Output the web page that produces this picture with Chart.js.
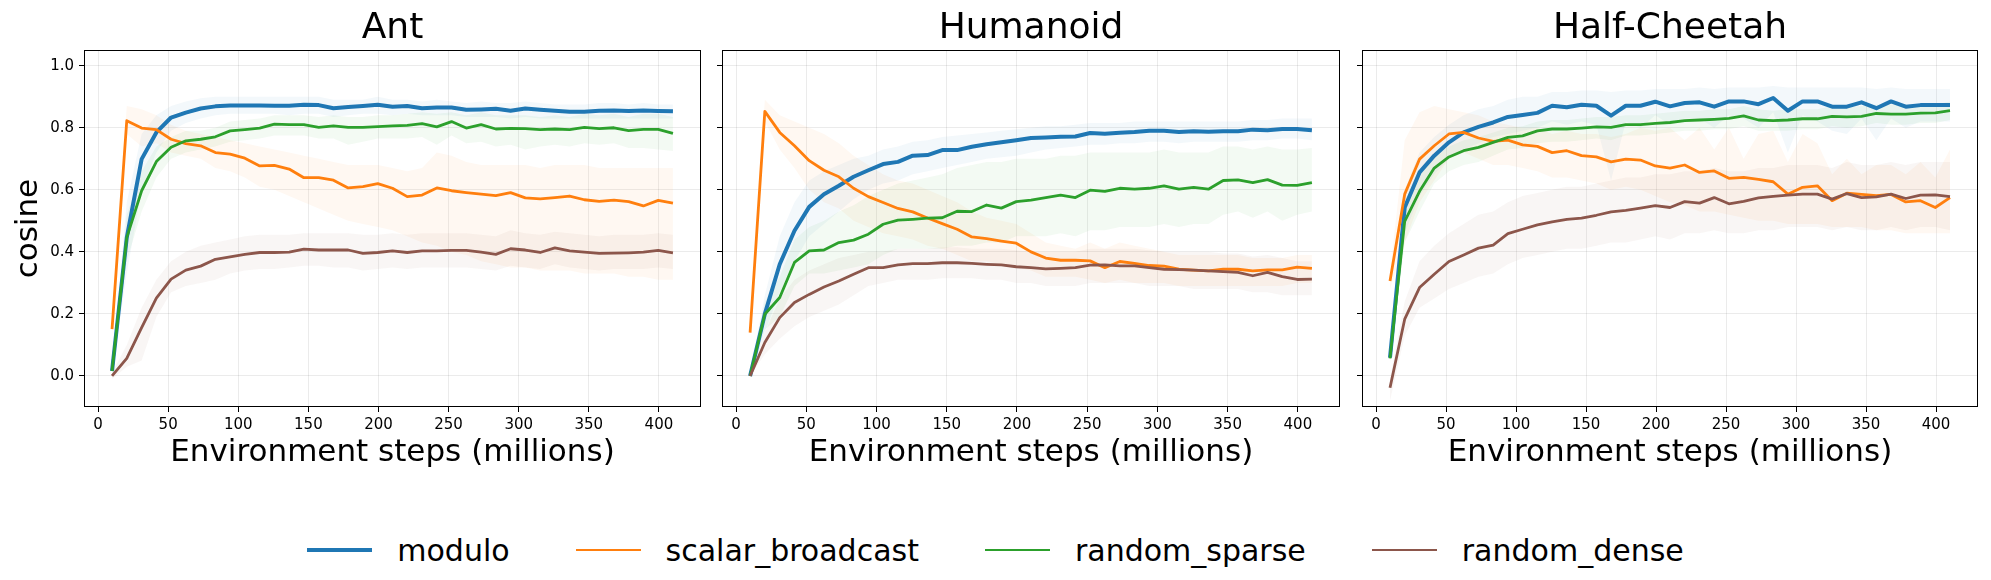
<!DOCTYPE html>
<html>
<head>
<meta charset="utf-8">
<script src="https://cdn.jsdelivr.net/npm/chart.js@4.4.1/dist/chart.umd.min.js"></script>
<style>
  body { margin: 0; background: #fff; width: 1991px; height: 580px; overflow: hidden; position: relative; font-family: 'DejaVu Sans', sans-serif; }
  canvas { position: absolute; top: 0; }
  #legend { position: absolute; left: 0; top: 530px; width: 1991px; height: 40px; display: flex; justify-content: center; align-items: center; font-size: 30px; color: #000; }
  .item { display: flex; align-items: center; margin-right: 66px; }
  .item:last-child { margin-right: 0; }
  .swatch { width: 65px; margin-right: 25px; }
</style>
</head>
<body>
<canvas id="ant" width="705" height="500" style="left:0px"></canvas>
<canvas id="humanoid" width="642" height="500" style="left:702px"></canvas>
<canvas id="cheetah" width="640" height="500" style="left:1342px"></canvas>
<div id="legend"></div>
<script>
// environment steps (millions), shared by all panels
const steps = [10, 20.5, 31.1, 41.6, 52.1, 62.6, 73.2, 83.7, 94.2, 104.7,
    115.3, 125.8, 136.3, 146.8, 157.4, 167.9, 178.4, 188.9, 199.5, 210,
    220.5, 231.1, 241.6, 252.1, 262.6, 273.2, 283.7, 294.2, 304.7, 315.3,
    325.8, 336.3, 346.8, 357.4, 367.9, 378.4, 388.9, 399.5, 410];

const xTicks = [0, 50, 100, 150, 200, 250, 300, 350, 400];
const yTicks = [0, 0.2, 0.4, 0.6, 0.8, 1.0];

const seriesNames = ['modulo', 'scalar_broadcast', 'random_sparse', 'random_dense'];
const seriesColors = ['#1f77b4', '#ff7f0e', '#2ca02c', '#8c564b'];
const bandColors = ['rgba(31,119,180,0.055)', 'rgba(255,127,14,0.055)', 'rgba(44,160,44,0.055)', 'rgba(140,86,75,0.055)'];
const lineWidths = [4, 2.8, 2.8, 2.8];

// Ant
const antModulo = [0.016, 0.446, 0.699, 0.785, 0.833, 0.849, 0.862, 0.869, 0.872, 0.872,
    0.872, 0.871, 0.871, 0.874, 0.873, 0.863, 0.867, 0.870, 0.874, 0.868,
    0.870, 0.863, 0.865, 0.865, 0.858, 0.859, 0.861, 0.855, 0.862, 0.858,
    0.855, 0.852, 0.852, 0.855, 0.856, 0.854, 0.856, 0.854, 0.853];
const antModuloHi = [0.03, 0.56, 0.78, 0.84, 0.87, 0.885, 0.895, 0.9, 0.9, 0.9,
    0.9, 0.9, 0.9, 0.9, 0.9, 0.89, 0.89, 0.89, 0.9, 0.89,
    0.89, 0.885, 0.89, 0.885, 0.88, 0.885, 0.88, 0.88, 0.885, 0.88,
    0.875, 0.875, 0.875, 0.88, 0.88, 0.875, 0.88, 0.875, 0.875];
const antModuloLo = [0.005, 0.33, 0.6, 0.72, 0.79, 0.815, 0.83, 0.84, 0.845, 0.845,
    0.845, 0.845, 0.84, 0.845, 0.845, 0.835, 0.84, 0.845, 0.845, 0.84,
    0.845, 0.84, 0.84, 0.84, 0.835, 0.835, 0.835, 0.83, 0.835, 0.83,
    0.83, 0.83, 0.83, 0.83, 0.83, 0.83, 0.83, 0.83, 0.83];
const antScalar = [0.151, 0.823, 0.799, 0.794, 0.763, 0.749, 0.742, 0.720, 0.715, 0.702,
    0.677, 0.679, 0.667, 0.639, 0.639, 0.631, 0.606, 0.610, 0.620, 0.605,
    0.578, 0.583, 0.606, 0.597, 0.591, 0.586, 0.581, 0.591, 0.574, 0.571,
    0.575, 0.580, 0.568, 0.563, 0.567, 0.562, 0.548, 0.566, 0.557];
const antScalarHi = [0.17, 0.87, 0.86, 0.84, 0.81, 0.79, 0.78, 0.77, 0.76, 0.75,
    0.74, 0.73, 0.72, 0.71, 0.70, 0.69, 0.68, 0.68, 0.68, 0.67,
    0.66, 0.67, 0.72, 0.71, 0.69, 0.68, 0.68, 0.68, 0.68, 0.67,
    0.68, 0.68, 0.68, 0.67, 0.67, 0.67, 0.67, 0.67, 0.67];
const antScalarLo = [0.13, 0.78, 0.74, 0.75, 0.72, 0.71, 0.70, 0.67, 0.66, 0.64,
    0.61, 0.60, 0.58, 0.56, 0.54, 0.52, 0.50, 0.49, 0.48, 0.47,
    0.45, 0.43, 0.42, 0.40, 0.39, 0.37, 0.36, 0.35, 0.35, 0.34,
    0.34, 0.34, 0.33, 0.33, 0.33, 0.32, 0.32, 0.31, 0.31];
const antSparse = [0.016, 0.446, 0.597, 0.691, 0.737, 0.758, 0.763, 0.771, 0.790, 0.794,
    0.799, 0.812, 0.810, 0.810, 0.801, 0.806, 0.801, 0.801, 0.804, 0.806,
    0.808, 0.813, 0.803, 0.820, 0.799, 0.810, 0.796, 0.798, 0.797, 0.794,
    0.796, 0.794, 0.801, 0.797, 0.800, 0.791, 0.795, 0.795, 0.782];
const antSparseHi = [0.03, 0.52, 0.66, 0.74, 0.77, 0.79, 0.79, 0.80, 0.82, 0.825,
    0.83, 0.84, 0.84, 0.84, 0.835, 0.84, 0.835, 0.835, 0.84, 0.84,
    0.845, 0.85, 0.845, 0.85, 0.84, 0.85, 0.84, 0.84, 0.84, 0.835,
    0.84, 0.835, 0.845, 0.84, 0.845, 0.835, 0.845, 0.845, 0.835];
const antSparseLo = [0.005, 0.37, 0.53, 0.64, 0.70, 0.72, 0.73, 0.74, 0.755, 0.76,
    0.765, 0.775, 0.775, 0.775, 0.765, 0.765, 0.745, 0.755, 0.765, 0.765,
    0.765, 0.77, 0.745, 0.775, 0.75, 0.755, 0.74, 0.745, 0.73, 0.74,
    0.745, 0.74, 0.75, 0.745, 0.75, 0.735, 0.735, 0.73, 0.725];
const antDense = [0.000, 0.057, 0.156, 0.251, 0.312, 0.341, 0.354, 0.376, 0.384, 0.392,
    0.398, 0.398, 0.399, 0.409, 0.406, 0.406, 0.406, 0.395, 0.398, 0.403,
    0.398, 0.403, 0.403, 0.405, 0.405, 0.399, 0.392, 0.410, 0.406, 0.398,
    0.413, 0.403, 0.399, 0.395, 0.396, 0.397, 0.399, 0.405, 0.397];
const antDenseHi = [0.01, 0.10, 0.22, 0.31, 0.37, 0.40, 0.42, 0.43, 0.44, 0.45,
    0.455, 0.455, 0.455, 0.46, 0.46, 0.46, 0.46, 0.455, 0.455, 0.46,
    0.455, 0.46, 0.46, 0.46, 0.46, 0.455, 0.45, 0.47, 0.46, 0.455,
    0.465, 0.46, 0.455, 0.45, 0.455, 0.455, 0.455, 0.46, 0.455];
const antDenseLo = [-0.01, 0.03, 0.05, 0.19, 0.27, 0.29, 0.30, 0.31, 0.33, 0.34,
    0.345, 0.345, 0.35, 0.355, 0.355, 0.35, 0.35, 0.34, 0.345, 0.35,
    0.345, 0.35, 0.35, 0.35, 0.35, 0.345, 0.34, 0.355, 0.35, 0.345,
    0.36, 0.35, 0.345, 0.34, 0.345, 0.345, 0.345, 0.35, 0.345];

// Humanoid
const humModulo = [0.0, 0.20, 0.360, 0.468, 0.545, 0.586, 0.613, 0.642, 0.663, 0.683,
    0.690, 0.710, 0.712, 0.728, 0.728, 0.739, 0.747, 0.753, 0.760, 0.767,
    0.769, 0.771, 0.772, 0.783, 0.781, 0.784, 0.786, 0.790, 0.790, 0.786,
    0.789, 0.787, 0.789, 0.789, 0.794, 0.792, 0.796, 0.796, 0.792];
const humModuloHi = [0.01, 0.26, 0.45, 0.56, 0.63, 0.66, 0.68, 0.70, 0.71, 0.73,
    0.74, 0.755, 0.76, 0.77, 0.775, 0.78, 0.785, 0.79, 0.795, 0.80,
    0.805, 0.805, 0.81, 0.815, 0.815, 0.815, 0.82, 0.82, 0.82, 0.82,
    0.82, 0.82, 0.82, 0.82, 0.825, 0.825, 0.83, 0.83, 0.83];
const humModuloLo = [0.0, 0.14, 0.27, 0.37, 0.45, 0.49, 0.53, 0.57, 0.60, 0.62,
    0.63, 0.65, 0.66, 0.67, 0.68, 0.69, 0.70, 0.705, 0.71, 0.72,
    0.73, 0.735, 0.74, 0.745, 0.745, 0.75, 0.75, 0.755, 0.755, 0.75,
    0.755, 0.755, 0.755, 0.755, 0.76, 0.76, 0.765, 0.765, 0.76];
const humScalar = [0.140, 0.853, 0.785, 0.742, 0.694, 0.663, 0.642, 0.605, 0.578, 0.559,
    0.540, 0.529, 0.509, 0.491, 0.473, 0.448, 0.443, 0.435, 0.428, 0.400,
    0.380, 0.373, 0.373, 0.371, 0.349, 0.369, 0.363, 0.356, 0.354, 0.344,
    0.341, 0.339, 0.344, 0.344, 0.339, 0.342, 0.342, 0.351, 0.347];
const humScalarHi = [0.15, 0.89, 0.84, 0.82, 0.80, 0.78, 0.75, 0.71, 0.68, 0.65,
    0.63, 0.62, 0.60, 0.58, 0.56, 0.53, 0.51, 0.50, 0.49, 0.46,
    0.43, 0.42, 0.41, 0.43, 0.41, 0.43, 0.42, 0.41, 0.40, 0.39,
    0.39, 0.39, 0.39, 0.39, 0.38, 0.38, 0.38, 0.39, 0.39];
const humScalarLo = [0.13, 0.82, 0.73, 0.67, 0.60, 0.56, 0.54, 0.50, 0.48, 0.46,
    0.45, 0.44, 0.42, 0.41, 0.39, 0.37, 0.37, 0.36, 0.35, 0.34,
    0.32, 0.32, 0.32, 0.31, 0.30, 0.31, 0.30, 0.30, 0.30, 0.29,
    0.29, 0.29, 0.29, 0.29, 0.29, 0.29, 0.29, 0.30, 0.30];
const humSparse = [0.0, 0.199, 0.253, 0.366, 0.403, 0.406, 0.430, 0.438, 0.457, 0.489,
    0.502, 0.505, 0.509, 0.510, 0.531, 0.530, 0.551, 0.541, 0.562, 0.567,
    0.575, 0.583, 0.575, 0.599, 0.595, 0.605, 0.602, 0.605, 0.613, 0.602,
    0.608, 0.602, 0.630, 0.632, 0.623, 0.633, 0.615, 0.614, 0.623];
const humSparseHi = [0.01, 0.24, 0.32, 0.44, 0.48, 0.50, 0.53, 0.55, 0.58, 0.60,
    0.62, 0.63, 0.64, 0.65, 0.67, 0.68, 0.69, 0.69, 0.70, 0.70,
    0.70, 0.71, 0.71, 0.72, 0.72, 0.72, 0.72, 0.72, 0.73, 0.72,
    0.72, 0.72, 0.74, 0.74, 0.73, 0.74, 0.73, 0.73, 0.735];
const humSparseLo = [0.0, 0.15, 0.19, 0.29, 0.33, 0.33, 0.34, 0.35, 0.36, 0.39,
    0.41, 0.41, 0.41, 0.41, 0.42, 0.42, 0.43, 0.43, 0.45, 0.45,
    0.45, 0.46, 0.45, 0.47, 0.47, 0.48, 0.48, 0.48, 0.49, 0.48,
    0.49, 0.49, 0.52, 0.53, 0.51, 0.53, 0.50, 0.52, 0.53];
const humDense = [0.0, 0.108, 0.188, 0.237, 0.263, 0.287, 0.306, 0.328, 0.349, 0.349,
    0.358, 0.362, 0.362, 0.365, 0.365, 0.363, 0.360, 0.358, 0.352, 0.349,
    0.345, 0.347, 0.349, 0.357, 0.358, 0.355, 0.355, 0.349, 0.344, 0.343,
    0.341, 0.339, 0.336, 0.334, 0.323, 0.334, 0.320, 0.311, 0.312];
const humDenseHi = [0.01, 0.14, 0.25, 0.31, 0.34, 0.36, 0.38, 0.39, 0.40, 0.40,
    0.41, 0.41, 0.41, 0.415, 0.415, 0.41, 0.41, 0.41, 0.405, 0.40,
    0.40, 0.40, 0.40, 0.41, 0.41, 0.41, 0.41, 0.405, 0.40, 0.40,
    0.40, 0.40, 0.395, 0.395, 0.385, 0.39, 0.38, 0.37, 0.37];
const humDenseLo = [0.0, 0.07, 0.12, 0.16, 0.19, 0.21, 0.23, 0.26, 0.29, 0.30,
    0.31, 0.31, 0.31, 0.315, 0.315, 0.315, 0.31, 0.31, 0.30, 0.30,
    0.29, 0.29, 0.29, 0.30, 0.30, 0.30, 0.30, 0.29, 0.29, 0.29,
    0.28, 0.28, 0.28, 0.28, 0.27, 0.27, 0.26, 0.26, 0.26];

// Half-Cheetah
const hcModulo = [0.059, 0.543, 0.656, 0.710, 0.753, 0.785, 0.803, 0.817, 0.835, 0.841,
    0.848, 0.871, 0.866, 0.874, 0.871, 0.839, 0.871, 0.871, 0.884, 0.869,
    0.880, 0.882, 0.868, 0.885, 0.885, 0.876, 0.896, 0.855, 0.885, 0.885,
    0.868, 0.868, 0.882, 0.863, 0.885, 0.868, 0.873, 0.873, 0.873];
const hcModuloHi = [0.07, 0.60, 0.72, 0.77, 0.81, 0.84, 0.86, 0.87, 0.89, 0.90,
    0.90, 0.915, 0.915, 0.92, 0.92, 0.915, 0.92, 0.92, 0.925, 0.925,
    0.925, 0.93, 0.925, 0.93, 0.93, 0.93, 0.935, 0.93, 0.93, 0.93,
    0.93, 0.93, 0.93, 0.925, 0.93, 0.925, 0.925, 0.925, 0.925];
const hcModuloLo = [0.05, 0.46, 0.58, 0.65, 0.70, 0.73, 0.75, 0.77, 0.78, 0.79,
    0.80, 0.82, 0.81, 0.82, 0.81, 0.63, 0.82, 0.80, 0.84, 0.81,
    0.83, 0.83, 0.80, 0.84, 0.83, 0.80, 0.85, 0.72, 0.84, 0.82,
    0.79, 0.78, 0.83, 0.76, 0.83, 0.80, 0.82, 0.82, 0.82];
const hcScalar = [0.306, 0.586, 0.699, 0.742, 0.780, 0.785, 0.767, 0.756, 0.760, 0.745,
    0.740, 0.720, 0.726, 0.710, 0.706, 0.690, 0.699, 0.696, 0.677, 0.670,
    0.680, 0.656, 0.661, 0.637, 0.640, 0.634, 0.626, 0.586, 0.608, 0.613,
    0.565, 0.589, 0.585, 0.581, 0.585, 0.561, 0.565, 0.543, 0.575];
const hcScalarHi = [0.33, 0.76, 0.85, 0.87, 0.86, 0.85, 0.84, 0.82, 0.81, 0.80,
    0.80, 0.78, 0.79, 0.78, 0.78, 0.77, 0.78, 0.80, 0.79, 0.80,
    0.76, 0.80, 0.73, 0.80, 0.70, 0.78, 0.79, 0.69, 0.78, 0.75,
    0.65, 0.70, 0.65, 0.68, 0.68, 0.65, 0.69, 0.64, 0.73];
const hcScalarLo = [0.28, 0.43, 0.56, 0.63, 0.70, 0.72, 0.70, 0.68, 0.68, 0.67,
    0.66, 0.64, 0.64, 0.63, 0.62, 0.60, 0.61, 0.60, 0.58, 0.56,
    0.55, 0.53, 0.53, 0.52, 0.51, 0.50, 0.50, 0.49, 0.49, 0.49,
    0.48, 0.48, 0.48, 0.47, 0.47, 0.46, 0.46, 0.46, 0.46];
const hcSparse = [0.057, 0.498, 0.595, 0.670, 0.706, 0.726, 0.737, 0.753, 0.769, 0.774,
    0.790, 0.796, 0.796, 0.799, 0.803, 0.801, 0.810, 0.810, 0.814, 0.817,
    0.823, 0.825, 0.827, 0.830, 0.838, 0.825, 0.823, 0.825, 0.829, 0.829,
    0.837, 0.835, 0.837, 0.846, 0.844, 0.844, 0.847, 0.848, 0.855];
const hcSparseHi = [0.07, 0.56, 0.65, 0.71, 0.74, 0.76, 0.77, 0.785, 0.80, 0.805,
    0.82, 0.825, 0.825, 0.83, 0.835, 0.835, 0.84, 0.84, 0.845, 0.85,
    0.855, 0.855, 0.86, 0.86, 0.87, 0.86, 0.855, 0.86, 0.86, 0.86,
    0.87, 0.865, 0.87, 0.875, 0.875, 0.875, 0.875, 0.875, 0.885];
const hcSparseLo = [0.04, 0.43, 0.53, 0.62, 0.66, 0.68, 0.69, 0.71, 0.73, 0.735,
    0.75, 0.755, 0.755, 0.76, 0.765, 0.76, 0.775, 0.775, 0.78, 0.785,
    0.79, 0.79, 0.795, 0.795, 0.805, 0.79, 0.79, 0.79, 0.795, 0.795,
    0.805, 0.80, 0.805, 0.815, 0.81, 0.81, 0.815, 0.815, 0.825];
const hcDense = [-0.038, 0.183, 0.285, 0.328, 0.369, 0.390, 0.412, 0.422, 0.459, 0.473,
    0.487, 0.497, 0.505, 0.509, 0.518, 0.529, 0.534, 0.541, 0.549, 0.543,
    0.562, 0.557, 0.575, 0.555, 0.563, 0.574, 0.579, 0.583, 0.586, 0.586,
    0.570, 0.588, 0.575, 0.577, 0.586, 0.572, 0.583, 0.584, 0.578];
const hcDenseHi = [-0.01, 0.24, 0.37, 0.42, 0.46, 0.49, 0.52, 0.53, 0.56, 0.58,
    0.59, 0.60, 0.61, 0.61, 0.62, 0.63, 0.64, 0.64, 0.65, 0.65,
    0.66, 0.66, 0.67, 0.66, 0.66, 0.67, 0.67, 0.68, 0.68, 0.68,
    0.67, 0.69, 0.68, 0.68, 0.69, 0.68, 0.69, 0.69, 0.69];
const hcDenseLo = [-0.08, 0.13, 0.22, 0.25, 0.28, 0.30, 0.32, 0.33, 0.36, 0.38,
    0.39, 0.40, 0.41, 0.41, 0.42, 0.43, 0.43, 0.44, 0.45, 0.44,
    0.46, 0.46, 0.47, 0.46, 0.46, 0.47, 0.47, 0.48, 0.48, 0.48,
    0.47, 0.48, 0.47, 0.47, 0.48, 0.47, 0.48, 0.48, 0.47];

Chart.defaults.font.family = "'DejaVu Sans', sans-serif";
Chart.defaults.color = '#000';

const toPoints = values => values.map((v, i) => ({ x: steps[i], y: v }));

// draws the four-sided axes box like matplotlib spines
const framePlugin = {
    id: 'frame',
    afterDraw(chart) {
        const { ctx, chartArea: a } = chart;
        ctx.save();
        ctx.strokeStyle = '#000';
        ctx.lineWidth = 1;
        ctx.strokeRect(Math.round(a.left) + 0.5, Math.round(a.top) + 0.5,
            Math.round(a.right - a.left) - 1, Math.round(a.bottom - a.top) - 1);
        ctx.restore();
    }
};

function buildDatasets(means, his, los) {
    const bands = [];
    const lines = [];
    means.forEach((mean, k) => {
        bands.push({
            data: toPoints(his[k]), borderWidth: 0, borderColor: 'rgba(0,0,0,0)',
            backgroundColor: bandColors[k], pointRadius: 0, fill: '+1', order: 10
        });
        bands.push({
            data: toPoints(los[k]), borderWidth: 0, borderColor: 'rgba(0,0,0,0)',
            pointRadius: 0, fill: false, order: 10
        });
        lines.push({
            label: seriesNames[k], data: toPoints(mean), borderColor: seriesColors[k],
            borderWidth: lineWidths[k], pointRadius: 0, fill: false,
            borderJoinStyle: 'round', borderCapStyle: 'butt', order: 4 - k
        });
    });
    return bands.concat(lines);
}

function panelOptions(title, showY) {
    return {
        responsive: false,
        animation: false,
        events: [],
        layout: { padding: { right: 4 } },
        plugins: {
            legend: { display: false },
            tooltip: { enabled: false },
            title: {
                display: true, text: title, fullSize: false, color: '#000',
                font: { size: 36, weight: 'normal' }, padding: { top: 7, bottom: 0 }
            }
        },
        scales: {
            x: {
                type: 'linear', min: -10, max: 430,
                afterBuildTicks: s => { s.ticks = xTicks.map(v => ({ value: v })); },
                afterFit: s => { s.height = 93; },
                grid: { color: 'rgba(0,0,0,0.08)', tickColor: '#000', tickLength: 5, lineWidth: 1 },
                border: { display: false },
                ticks: { font: { size: 15 }, color: '#000', padding: 4, maxRotation: 0 },
                title: {
                    display: true, text: 'Environment steps (millions)', color: '#000',
                    font: { size: 31 }, padding: { top: 0, bottom: 28 }
                }
            },
            y: {
                type: 'linear', min: -0.1, max: 1.05,
                afterBuildTicks: s => { s.ticks = yTicks.map(v => ({ value: v })); },
                afterFit: s => { s.width = showY ? 84 : 20; },
                grid: { color: 'rgba(0,0,0,0.08)', tickColor: '#000', tickLength: 5, lineWidth: 1 },
                border: { display: false },
                ticks: { display: showY, font: { size: 15 }, color: '#000', padding: 5, callback: v => v.toFixed(1) },
                title: {
                    display: showY, text: 'cosine', color: '#000',
                    font: { size: 31 }, padding: { top: 10, bottom: 0 }
                }
            }
        }
    };
}

new Chart(document.getElementById('ant'), {
    type: 'line',
    data: {
        datasets: buildDatasets(
            [antModulo, antScalar, antSparse, antDense],
            [antModuloHi, antScalarHi, antSparseHi, antDenseHi],
            [antModuloLo, antScalarLo, antSparseLo, antDenseLo])
    },
    options: panelOptions('Ant', true),
    plugins: [framePlugin]
});

new Chart(document.getElementById('humanoid'), {
    type: 'line',
    data: {
        datasets: buildDatasets(
            [humModulo, humScalar, humSparse, humDense],
            [humModuloHi, humScalarHi, humSparseHi, humDenseHi],
            [humModuloLo, humScalarLo, humSparseLo, humDenseLo])
    },
    options: panelOptions('Humanoid', false),
    plugins: [framePlugin]
});

new Chart(document.getElementById('cheetah'), {
    type: 'line',
    data: {
        datasets: buildDatasets(
            [hcModulo, hcScalar, hcSparse, hcDense],
            [hcModuloHi, hcScalarHi, hcSparseHi, hcDenseHi],
            [hcModuloLo, hcScalarLo, hcSparseLo, hcDenseLo])
    },
    options: panelOptions('Half-Cheetah', false),
    plugins: [framePlugin]
});

// legend below the panels
const legend = document.getElementById('legend');
seriesNames.forEach((name, k) => {
    const item = document.createElement('div');
    item.className = 'item';
    item.innerHTML = `<div class="swatch" style="height:${lineWidths[k]}px;background:${seriesColors[k]}"></div><span>${name}</span>`;
    legend.appendChild(item);
});
</script>
</body>
</html>
